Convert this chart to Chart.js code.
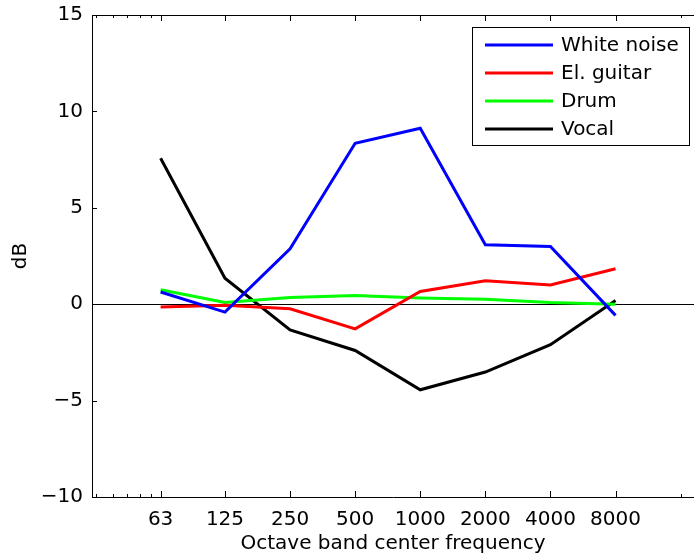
<!DOCTYPE html>
<html>
<head>
<meta charset="utf-8">
<script src="https://cdn.jsdelivr.net/npm/chart.js"></script>
<style>
  html, body { margin: 0; padding: 0; background: #fff; overflow: hidden; }
</style>
</head>
<body>
<canvas id="octaveChart" width="694" height="560"></canvas>

<script>
  // octave band centres (Hz) and their tick labels
  const bands = [63, 125, 250, 500, 1000, 2000, 4000, 8000];
  const bandLabels = ['63', '125', '250', '500', '1000', '2000', '4000', '8000'];

  // level difference per band, dB
  const whiteNoise = [0.63, -0.41, 2.87, 8.35, 9.13, 3.08, 2.99, -0.58];
  const elGuitar   = [-0.15, -0.05, -0.24, -1.28, 0.66, 1.21, 1.0, 1.84];
  const drum       = [0.75, 0.09, 0.35, 0.45, 0.32, 0.26, 0.09, 0.0];
  const vocal      = [7.57, 1.35, -1.33, -2.4, -4.44, -3.52, -2.1, 0.19];

  const seriesNames = ['White noise', 'El. guitar', 'Drum', 'Vocal'];
  const seriesColors = ['#0000ff', '#ff0000', '#00ff00', '#000000'];

  const yTicks = [-10, -5, 0, 5, 10, 15];
  // small log ticks below the first band and one octave above the last
  const minorTicks = [31.5, 37.8, 44.1, 50.4, 56.7, 16000];

  const FONT = '"DejaVu Sans", Verdana, sans-serif';
  const FS = 20;

  const pts = vals => vals.map((v, i) => ({ x: bands[i], y: v }));
  const allSeries = [whiteNoise, elGuitar, drum, vocal];

  const matlabAxes = {
    id: 'matlabAxes',
    beforeDatasetsDraw(chart) {
      const { ctx, chartArea: a, scales: { y } } = chart;
      const y0 = Math.round(y.getPixelForValue(0)) + 0.5;
      ctx.save();
      ctx.strokeStyle = '#000';
      ctx.lineWidth = 1;
      ctx.beginPath();
      ctx.moveTo(a.left, y0);
      ctx.lineTo(a.right, y0);
      ctx.stroke();
      ctx.restore();
    },
    afterDraw(chart) {
      const { ctx, chartArea: a, scales: { x, y } } = chart;
      ctx.save();
      ctx.strokeStyle = '#000';
      ctx.lineWidth = 1;
      ctx.beginPath();
      // top edge of the box
      ctx.moveTo(a.left, a.top + 0.5);
      ctx.lineTo(a.right, a.top + 0.5);
      // major x ticks, pointing inwards on bottom and top
      bands.forEach(f => {
        const px = Math.round(x.getPixelForValue(f)) + 0.5;
        ctx.moveTo(px, a.bottom); ctx.lineTo(px, a.bottom - 6);
        ctx.moveTo(px, a.top); ctx.lineTo(px, a.top + 6);
      });
      minorTicks.forEach(f => {
        const px = Math.round(x.getPixelForValue(f)) + 0.5;
        ctx.moveTo(px, a.bottom); ctx.lineTo(px, a.bottom - 3);
        ctx.moveTo(px, a.top); ctx.lineTo(px, a.top + 3);
      });
      yTicks.forEach(v => {
        const py = Math.round(y.getPixelForValue(v)) + 0.5;
        ctx.moveTo(a.left, py); ctx.lineTo(a.left + 5, py);
      });
      ctx.stroke();

      // legend box in the upper right corner
      const bx = 472.5, by = 27.5, bw = 217, bh = 118;
      ctx.fillStyle = '#fff';
      ctx.fillRect(bx, by, bw, bh);
      ctx.strokeRect(bx, by, bw, bh);
      ctx.font = FS + 'px ' + FONT;
      ctx.textBaseline = 'middle';
      ctx.textAlign = 'left';
      chart.data.datasets.forEach((ds, i) => {
        const ly = 45 + i * 28;
        ctx.strokeStyle = ds.borderColor;
        ctx.lineWidth = 3;
        ctx.beginPath();
        ctx.moveTo(485, ly);
        ctx.lineTo(553, ly);
        ctx.stroke();
        ctx.fillStyle = '#000';
        ctx.fillText(ds.label, 561, ly + 1);
      });
      ctx.restore();
    }
  };

  new Chart(document.getElementById('octaveChart'), {
    type: 'line',
    data: {
      datasets: allSeries.map((vals, i) => ({
        label: seriesNames[i],
        data: pts(vals),
        borderColor: seriesColors[i],
        backgroundColor: seriesColors[i],
        borderWidth: 3,
        pointRadius: 0,
        tension: 0,
        fill: false
      }))
    },
    options: {
      responsive: false,
      animation: false,
      devicePixelRatio: 1,
      layout: { padding: { left: 0, top: 15, right: 0, bottom: 0 } },
      plugins: {
        legend: { display: false },
        tooltip: { enabled: false }
      },
      scales: {
        x: {
          type: 'logarithmic',
          min: 30.34,
          max: 18450,
          afterBuildTicks: s => { s.ticks = bands.map(v => ({ value: v })); },
          afterFit: s => { s.height = 63; s.paddingLeft = 0; s.paddingRight = 0; },
          grid: { display: false, drawTicks: false },
          border: { display: true, color: '#000', width: 1 },
          ticks: {
            autoSkip: false,
            maxRotation: 0,
            padding: 11,
            color: '#000',
            font: { family: FONT, size: FS },
            callback: (v, i) => bandLabels[i]
          },
          title: {
            display: true,
            text: 'Octave band center frequency',
            color: '#000',
            font: { family: FONT, size: FS },
            padding: { top: 0, bottom: 4 }
          }
        },
        y: {
          min: -10,
          max: 15,
          afterBuildTicks: s => { s.ticks = yTicks.map(v => ({ value: v })); },
          afterFit: s => { s.width = 92; s.paddingTop = 0; s.paddingBottom = 0; },
          grid: { display: false, drawTicks: false },
          border: { display: true, color: '#000', width: 1 },
          ticks: {
            padding: 9,
            color: '#000',
            font: { family: FONT, size: FS },
            callback: v => (v < 0 ? '\u2212' + Math.abs(v) : String(v))
          },
          title: {
            display: true,
            text: 'dB',
            color: '#000',
            font: { family: FONT, size: FS },
            padding: { top: 9, bottom: 0 }
          }
        }
      }
    },
    plugins: [matlabAxes]
  });
</script>
</body>
</html>
